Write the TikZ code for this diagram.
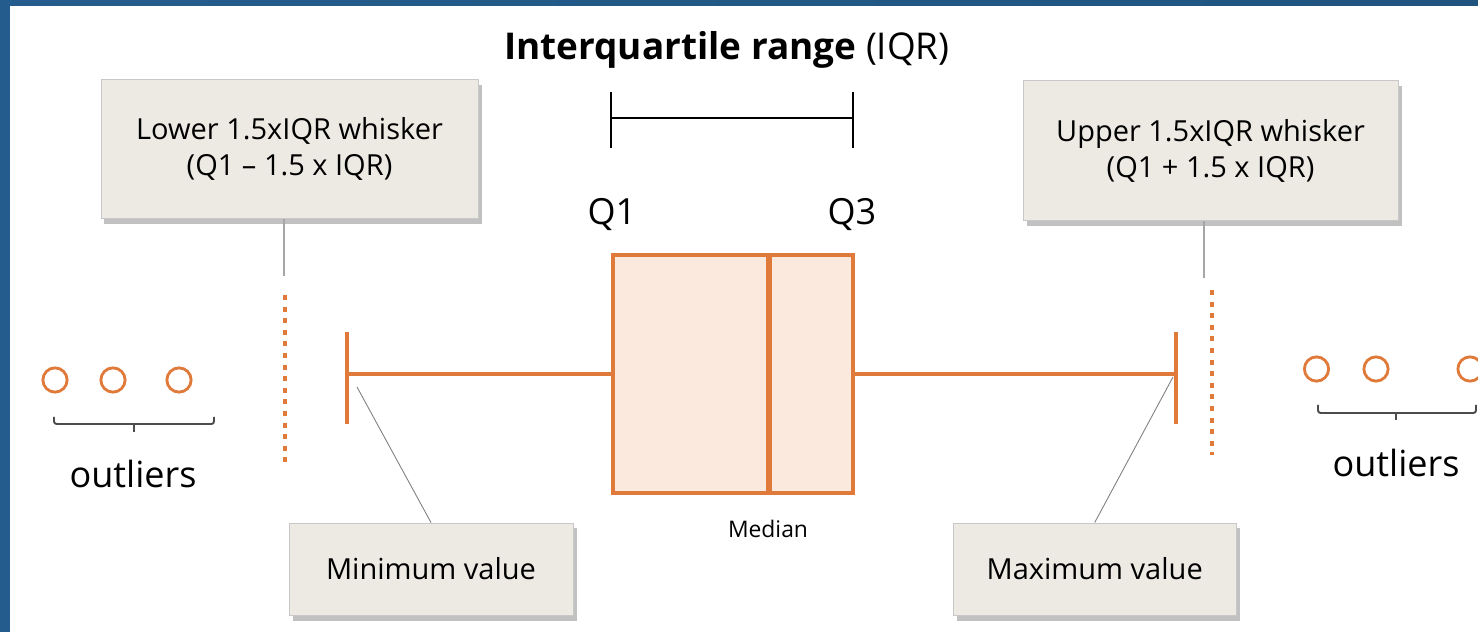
\documentclass[tikz,border=0pt]{standalone}
\usepackage{fontspec}
\setmainfont{Open Sans}
\usepackage{tikz}
\usetikzlibrary{shadows,positioning}

\definecolor{boxorange}{RGB}{224,122,58}
\definecolor{boxfill}{RGB}{250,233,220}
\definecolor{notefill}{RGB}{236,234,227}
\definecolor{noteline}{RGB}{200,200,200}
\definecolor{frameblue}{RGB}{36,93,141}
\definecolor{frameteal}{RGB}{60,150,184}

\begin{document}
\begin{tikzpicture}[x=0.2mm, y=-0.2mm]
    \tikzset{note/.style={draw=noteline, fill=notefill, line width=0.5pt, align=center,
            font=\fontsize{16.5}{20.5}\selectfont,
            drop shadow={shadow xshift=0.7mm, shadow yshift=-1.1mm, opacity=0.4, fill=black!60}},
        leader/.style={draw=black!35, line width=0.8pt},
        whisk/.style={draw=boxorange, line width=2.1pt},
        fence/.style={draw=boxorange, line width=2.7pt, dash pattern=on 2.8pt off 3.8pt},
        outlier/.style={circle, draw=boxorange, line width=1.6pt, fill=white,
            minimum size=13.8pt, inner sep=0pt},
        brace/.style={draw=black!70, line width=1.1pt, rounded corners=1.5pt},
        bigtext/.style={font=\fontsize{20.5}{24}\selectfont, anchor=base}}
    \useasboundingbox (0,0) rectangle (1478,632);
    % frame
    \fill[white] (0,0) rectangle (1478,632);
    \shade[left color=frameblue, middle color=frameteal, right color=frameblue!90!black]
        (0,0) rectangle (1478,6);
    \fill[frameblue] (0,0) rectangle (10,632);

    % title and IQR span
    \node[font=\fontsize{21}{25}\selectfont\bfseries, anchor=base] (title) at (727,60)
        {Interquartile range {\mdseries(IQR)}};
    \coordinate (iqrl) at (611,118);
    \coordinate (iqrr) at (853,118);
    \draw[line width=0.85pt] (iqrl) -- (iqrr);
    \draw[line width=0.85pt] (611,92) -- (611,148);
    \draw[line width=0.85pt] (853,92) -- (853,148);
    \node[bigtext] (qone) at (612,225) {Q1};
    \node[bigtext] (qthree) at (852,225) {Q3};

    % box and whiskers
    \node[draw=boxorange, fill=boxfill, line width=2.4pt, minimum width=48mm,
        minimum height=47.6mm, inner sep=0pt] (iqrbox) at (733,374) {};
    \coordinate (med) at (769,374);
    \draw[boxorange, line width=3.2pt] (med |- iqrbox.north) -- (med |- iqrbox.south);
    \node[font=\fontsize{13}{15}\selectfont, anchor=base] (medlabel) at (768,537) {Median};
    \coordinate (wmin) at (347,374);
    \coordinate (wmax) at (1176,374);
    \draw[whisk] (iqrbox.west) -- (wmin);
    \draw[whisk] (iqrbox.east) -- (wmax);
    \draw[whisk] (347,332) -- (347,424);
    \draw[whisk] (1176,332) -- (1176,424);

    % fences
    \draw[fence] (285,295) -- (285,462);
    \draw[fence] (1212,290) -- (1212,455);

    % notes
    \node[note, minimum width=75.4mm, minimum height=27.8mm] (lowbox) at (289.5,149)
        {Lower 1.5xIQR whisker\\(Q1 -- 1.5 x IQR)};
    \node[note, minimum width=75mm, minimum height=28mm] (upbox) at (1210.5,150.5)
        {Upper 1.5xIQR whisker\\(Q1 + 1.5 x IQR)};
    \node[note, minimum width=56.8mm, minimum height=18.4mm] (minbox) at (431,569)
        {Minimum value};
    \node[note, minimum width=56.6mm, minimum height=18.4mm] (maxbox) at (1094.7,569)
        {Maximum value};
    \coordinate (lowlead) at (284,276);
    \coordinate (uplead) at (1204,278);
    \draw[leader] (lowlead |- lowbox.south) -- (lowlead);
    \draw[leader] (uplead |- upbox.south) -- (uplead);
    \coordinate (minpt) at (357,387);
    \coordinate (maxpt) at (1173,377);
    \draw[draw=black!50, line width=0.5pt] (minbox.north) -- (minpt);
    \draw[draw=black!50, line width=0.5pt] (maxbox.north) -- (maxpt);

    % outliers
    \foreach \i/\x in {1/55, 2/113, 3/179}
        \node[outlier] (ol\i) at (\x,380) {};
    \foreach \i/\x in {1/1316.5, 2/1376, 3/1470}
        \node[outlier] (or\i) at (\x,369) {};
    \draw[brace] (54,417) -- (54,424) -- (214,424) -- (214,417);
    \draw[brace] (134,424) -- (134,432);
    \draw[brace] (1318,405) -- (1318,413) -- (1476,413) -- (1476,405);
    \draw[brace] (1396,413) -- (1396,420);
    \node[bigtext] (outl) at (133,487) {outliers};
    \node[bigtext] (outr) at (1396,477) {outliers};
\end{tikzpicture}
\end{document}
